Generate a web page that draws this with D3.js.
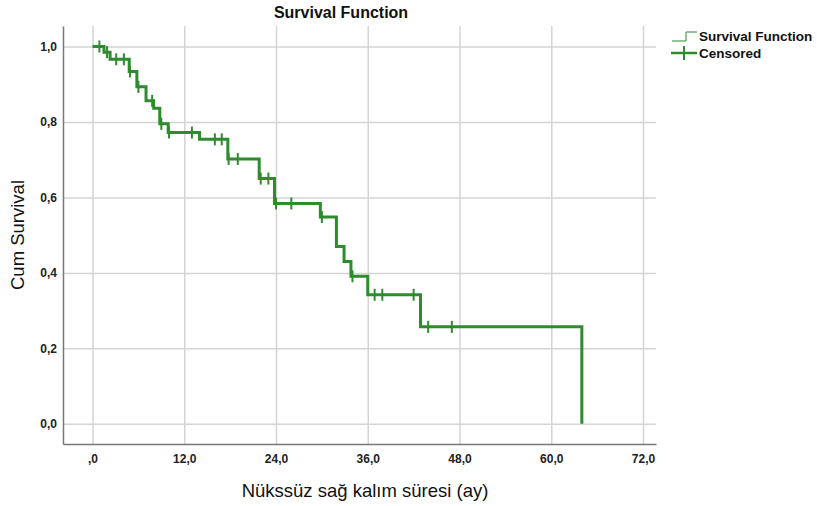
<meta charset="utf-8">
<html>
<script src="https://cdnjs.cloudflare.com/ajax/libs/d3/7.8.5/d3.min.js"></script>
<style>
body { margin: 0; background: #fff; font-family: "Liberation Sans", Arial, sans-serif; }
.grid line { stroke: #d4d4d4; stroke-width: 1.5; }
.grid path { display: none; }
.tick text { font-weight: bold; font-size: 12px; fill: #222; }
</style>
<body>
<svg id="chart" width="817" height="506"></svg>
<script>

// step times (months) and survival after each step
var stepTimes = [1.5, 2.3, 4.8, 5.8, 7.0, 8.0, 8.8, 9.9, 14.0, 17.7, 21.8, 23.8, 29.8, 31.9, 32.9, 33.8, 36.0, 42.9, 64.0];
var stepSurv  = [0.985, 0.966, 0.934, 0.893, 0.856, 0.836, 0.795, 0.772, 0.754, 0.702, 0.650, 0.584, 0.548, 0.470, 0.430, 0.391, 0.342, 0.257, 0.0];

// censored cases
var censTimes = [0.9, 1.9, 3.1, 4.1, 4.9, 6.0, 7.8, 9.0, 10.0, 13.0, 16.0, 16.9, 17.8, 19.0, 22.0, 23.0, 24.0, 26.0, 30.0, 34.0, 36.9, 37.9, 42.0, 43.9, 47.0];
var censSurv  = [1.0, 0.985, 0.966, 0.966, 0.934, 0.893, 0.856, 0.795, 0.772, 0.772, 0.754, 0.754, 0.702, 0.702, 0.650, 0.650, 0.584, 0.584, 0.548, 0.391, 0.342, 0.342, 0.342, 0.257, 0.257];

var xTicks = [0, 12, 24, 36, 48, 60, 72];
var xTickLabels = [",0", "12,0", "24,0", "36,0", "48,0", "60,0", "72,0"];
var yTicks = [0, 0.2, 0.4, 0.6, 0.8, 1.0];
var yTickLabels = ["0,0", "0,2", "0,4", "0,6", "0,8", "1,0"];

var green = "#2e8b2e";
var plotL = 63, plotR = 656, plotT = 26, plotB = 444;

var svg = d3.select("#chart");

var x = d3.scaleLinear().domain([-3.86, 73.7]).range([plotL, plotR]);
var y = d3.scaleLinear().domain([-0.0535, 1.0543]).range([plotB, plotT]);

// grid
svg.append("g").attr("class", "grid")
	.attr("transform", "translate(0," + plotB + ")")
	.call(d3.axisBottom(x).tickValues(xTicks).tickSize(-(plotB - plotT)).tickFormat(""));
svg.append("g").attr("class", "grid")
	.attr("transform", "translate(" + plotL + ",0)")
	.call(d3.axisLeft(y).tickValues(yTicks).tickSize(-(plotR - plotL)).tickFormat(""));

// axes
var xAxis = svg.append("g")
	.attr("transform", "translate(0," + plotB + ")")
	.call(d3.axisBottom(x).tickValues(xTicks).tickSize(0).tickPadding(10)
		.tickFormat(function(d, i) { return xTickLabels[i]; }));
xAxis.select(".domain").attr("stroke", "#777").attr("stroke-width", 1.5);

var yAxis = svg.append("g")
	.attr("transform", "translate(" + plotL + ",0)")
	.call(d3.axisLeft(y).tickValues(yTicks).tickSize(0).tickPadding(6)
		.tickFormat(function(d, i) { return yTickLabels[i]; }));
yAxis.select(".domain").attr("stroke", "#777").attr("stroke-width", 1.5);

// survival step line
var pts = [[0, 1]];
stepTimes.forEach(function(t, i) { pts.push([t, stepSurv[i]]); });
var line = d3.line().curve(d3.curveStepAfter)
	.x(function(d) { return x(d[0]); })
	.y(function(d) { return y(d[1]); });
svg.append("path")
	.attr("d", line(pts))
	.attr("fill", "none")
	.attr("stroke", green)
	.attr("stroke-width", 3);

// censor marks
svg.append("g").selectAll("line")
	.data(censTimes)
	.enter().append("line")
	.attr("x1", function(d) { return x(d); })
	.attr("x2", function(d) { return x(d); })
	.attr("y1", function(d, i) { return y(censSurv[i]) - 6; })
	.attr("y2", function(d, i) { return y(censSurv[i]) + 6; })
	.attr("stroke", green)
	.attr("stroke-width", 2);

// titles
svg.append("text").attr("x", 341).attr("y", 18).attr("text-anchor", "middle")
	.style("font-size", "16px").style("font-weight", "bold").attr("fill", "#111")
	.text("Survival Function");
svg.append("text").attr("transform", "translate(24,235) rotate(-90)").attr("text-anchor", "middle")
	.style("font-size", "18.5px").attr("fill", "#111")
	.text("Cum Survival");
svg.append("text").attr("x", 365).attr("y", 497).attr("text-anchor", "middle")
	.style("font-size", "18.5px").attr("fill", "#111")
	.text("Nükssüz sağ kalım süresi (ay)");

// legend
var lg = svg.append("g");
lg.append("path").attr("d", "M672,41 H686 V32 H697")
	.attr("fill", "none").attr("stroke", green).attr("stroke-width", 1);
lg.append("text").attr("x", 699).attr("y", 41).style("font-size", "13.5px").style("font-weight", "bold")
	.attr("fill", "#111").text("Survival Function");
lg.append("line").attr("x1", 671).attr("x2", 697).attr("y1", 53).attr("y2", 53)
	.attr("stroke", green).attr("stroke-width", 2.5);
lg.append("line").attr("x1", 684).attr("x2", 684).attr("y1", 46).attr("y2", 60)
	.attr("stroke", green).attr("stroke-width", 2);
lg.append("text").attr("x", 699).attr("y", 58).style("font-size", "13.5px").style("font-weight", "bold")
	.attr("fill", "#111").text("Censored");

</script>
</body>
</html>
